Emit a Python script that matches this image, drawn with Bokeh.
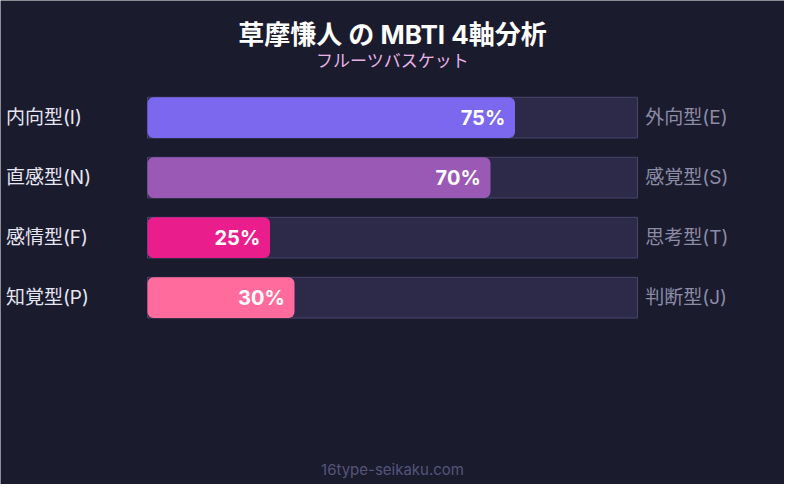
from bokeh.plotting import figure
from bokeh.models import Range1d
from bokeh.core.properties import value
from bokeh.embed import file_html
from bokeh.resources import INLINE

# data
left_labels = ["内向型(I)", "直感型(N)", "感情型(F)", "知覚型(P)"]
right_labels = ["外向型(E)", "感覚型(S)", "思考型(T)", "判断型(J)"]
scores = [75, 70, 25, 30]
colors = ["#7b68ee", "#9b59b6", "#e91e8c", "#ff6b9d"]

title = "草摩慊人 の MBTI 4軸分析"
subtitle = "フルーツバスケット"
footer = "16type-seikaku.com"

FONT = value("Inter, 'Noto Sans CJK JP', sans-serif")
BG = "#1b1b2e"

# x in percent (track 0..100 spans px 150..650), y in pixels of an 800x500 canvas
p = figure(width=784, height=484, output_backend="svg", toolbar_location=None,
           x_range=Range1d(-30, 130), y_range=Range1d(500, 0),
           min_border=0)
p.axis.visible = False
p.grid.visible = False
p.outline_line_color = None
p.background_fill_color = BG
p.border_fill_color = BG

rows = [121 + 62 * i for i in range(len(scores))]

# background tracks
p.hbar(y=rows, left=0, right=100, height=42, fill_color="#2c2a48",
       line_color="#48456c", line_width=1)
# filled bars
p.hbar(y=rows, left=0, right=scores, height=42, fill_color=colors,
       line_color=None, border_radius=6)

p.text(x=[s - 2 for s in scores], y=rows, text=[f"{s}%" for s in scores],
       text_align="right", text_baseline="middle", text_color="white",
       text_font=FONT, text_font_size="20px", text_font_style="bold")

p.text(x=[-28.9] * 4, y=rows, text=left_labels, text_align="left",
       text_baseline="middle", text_color="#e6e6f2", text_font=FONT,
       text_font_size="19px")
p.text(x=[101.6] * 4, y=rows, text=right_labels, text_align="left",
       text_baseline="middle", text_color="#8c8ca6", text_font=FONT,
       text_font_size="19px")

# title block
p.text(x=[50], y=[35], text=[title], text_align="center", text_baseline="middle",
       text_color="white", text_font=FONT, text_font_size="26px",
       text_font_style="bold")
p.text(x=[50], y=[63], text=[subtitle], text_align="center", text_baseline="middle",
       text_color="#e8b4e6", text_font=FONT, text_font_size="17px")
p.text(x=[50], y=[484], text=[footer], text_align="center", text_baseline="middle",
       text_color="#55557a", text_font=FONT, text_font_size="15px")

open("out.html", "w").write(file_html(p, INLINE))
